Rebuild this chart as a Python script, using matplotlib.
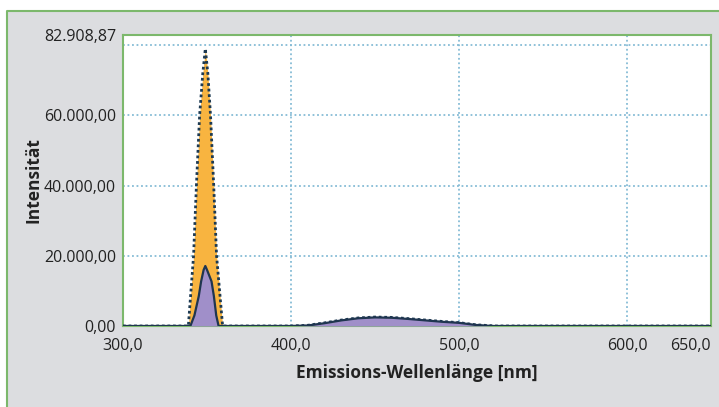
"""Emission spectrum: two overlaid filled curves on a framed grey panel."""

import matplotlib.pyplot as plt
from matplotlib.lines import Line2D
from matplotlib.patches import Rectangle
from matplotlib.ticker import FixedLocator

# sample A (orange, dotted outline)
wl_a = [300, 338.9, 342.0, 343.7, 345.6, 347.5, 349.0, 350.5, 352.1, 354.0, 355.7, 359.3,
        400, 410, 420, 430, 440, 450, 460, 470, 480, 490, 500, 510, 522, 650]
int_a = [0, 0, 20000, 40000, 60000, 72000, 79000, 72000, 60000, 40000, 20000, 0,
         0, 200, 900, 1700, 2300, 2550, 2450, 2100, 1700, 1300, 950, 350, 0, 0]

# sample B (purple, solid outline)
wl_b = [300, 340.1, 342.5, 345.1, 346.5, 348.0, 349.0, 350.0, 352.7, 354.1, 355.5, 356.9,
        400, 410, 420, 430, 440, 450, 460, 470, 480, 490, 500, 510, 520, 650]
int_b = [0, 0, 3000, 8500, 12700, 16000, 17100, 16000, 12700, 8500, 3000, 0,
         0, 150, 800, 1600, 2200, 2450, 2350, 2000, 1600, 1200, 900, 300, 0, 0]

x_ticks = [300, 400, 500, 600, 650]
x_labels = ["300,0", "400,0", "500,0", "600,0", "650,0"]
y_ticks = [0, 20000, 40000, 60000, 80000, 82908.87]
y_labels = ["0,00", "20.000,00", "40.000,00", "60.000,00", "", "82.908,87"]

GREEN = "#7cb86c"
PANEL = "#dcdde0"

plt.rcParams["font.family"] = ["Open Sans", "DejaVu Sans"]

fig = plt.figure(figsize=(7.19, 4.07), dpi=100, facecolor="white")
x0, y0 = 7 / 719, 1 - 11 / 407
fig.patches.append(Rectangle((x0, 0), 1 - x0, y0, transform=fig.transFigure,
                             facecolor=PANEL, edgecolor="none", zorder=-5))
fig.lines.append(Line2D([x0, x0, 1], [0, y0, y0], transform=fig.transFigure,
                        color=GREEN, linewidth=1.5, zorder=-4))

ax = fig.add_axes([123 / 719, 1 - 326 / 407, 588 / 719, 291 / 407])
ax.set_facecolor("white")

ax.fill_between(wl_a, int_a, 0, color="#f8b440", linewidth=0, zorder=2)
ax.plot(wl_a, int_a, color="#1d3a52", linestyle=(0, (1, 1.0)), linewidth=2.0, zorder=3)
ax.fill_between(wl_b, int_b, 0, color="#a08fc9", linewidth=0, zorder=4)
ax.plot(wl_b, int_b, color="#1f3550", linewidth=1.6, zorder=5)

ax.set_xlim(300, 650)
ax.set_ylim(0, 82908.87)
ax.xaxis.set_major_locator(FixedLocator(x_ticks))
ax.set_xticklabels(x_labels)
ax.get_xticklabels()[-1].set_horizontalalignment("right")
ax.yaxis.set_major_locator(FixedLocator(y_ticks))
ax.set_yticklabels(y_labels)
ax.tick_params(length=0, labelsize=11.5, colors="#222222", pad=5)
ax.tick_params(axis="x", pad=9)

ax.grid(True, color="#86bcd6", linestyle=(0, (1, 1.5)), linewidth=1.3, zorder=1)
ax.set_axisbelow(True)
for s in ax.spines.values():
    s.set_color(GREEN)
    s.set_linewidth(1.5)

ax.set_xlabel("Emissions-Wellenlänge [nm]", fontsize=12.5, fontweight="bold",
              color="#222222", labelpad=7)
ax.set_ylabel("Intensität", fontsize=12.5, fontweight="bold", color="#222222", labelpad=1)

fig.savefig("out.png", dpi=100, facecolor=fig.get_facecolor())
